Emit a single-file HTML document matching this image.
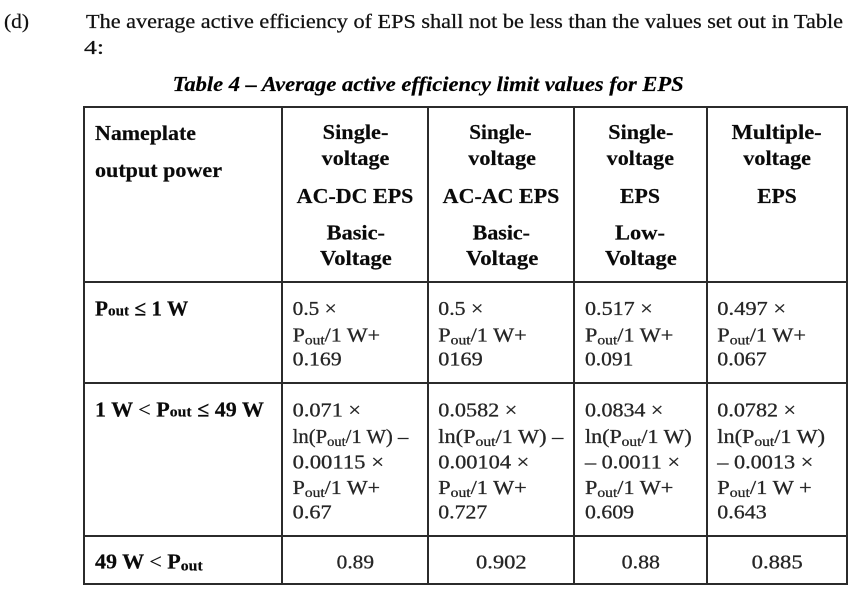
<!DOCTYPE html>
<html><head><meta charset="utf-8"><style>
html,body{margin:0;padding:0;background:#fff;}
svg{display:block;}
text{font-family:"Liberation Serif","Times New Roman",Times,"Tinos","Nimbus Roman","FreeSerif",serif;}
.m{font-size:20px;fill:#111;stroke:#111;stroke-width:0.25;}
.cap{font-size:21px;font-weight:bold;font-style:italic;fill:#000;stroke:#000;stroke-width:0.2;}
.h{font-size:21px;font-weight:bold;fill:#0a0a0a;stroke:#0a0a0a;stroke-width:0.2;}
.b{font-size:20px;fill:#262626;stroke:#262626;stroke-width:0.3;}
</style></head><body>
<svg width="865" height="593" viewBox="0 0 865 593" xmlns="http://www.w3.org/2000/svg" font-family="Liberation Serif, Times New Roman, serif">
<rect x="0" y="0" width="865" height="593" fill="#fff"/>

<!-- paragraph -->
<text class="m" x="4" y="28" textLength="25" lengthAdjust="spacingAndGlyphs">(d)</text>
<text class="m" x="86" y="28" textLength="757" lengthAdjust="spacingAndGlyphs">The average active efficiency of EPS shall not be less than the values set out in Table</text>
<text class="m" x="84" y="54" textLength="20" lengthAdjust="spacingAndGlyphs">4:</text>
<text class="cap" x="172.7" y="91" textLength="511" lengthAdjust="spacingAndGlyphs">Table 4 – Average active efficiency limit values for EPS</text>

<!-- table lines -->
<g fill="#2b2b2b">
<rect x="83" y="106" width="765" height="2"/>
<rect x="83" y="281" width="765" height="2"/>
<rect x="83" y="382" width="765" height="2"/>
<rect x="83" y="535" width="765" height="2"/>
<rect x="83" y="583" width="765" height="2"/>
<rect x="83" y="106" width="2" height="479"/>
<rect x="281" y="106" width="2" height="479"/>
<rect x="427" y="106" width="2" height="479"/>
<rect x="573" y="106" width="2" height="479"/>
<rect x="706" y="106" width="2" height="479"/>
<rect x="846" y="106" width="2" height="479"/>
</g>

<!-- header -->
<text class="h" x="95" y="140" textLength="101" lengthAdjust="spacingAndGlyphs">Nameplate</text>
<text class="h" x="95" y="177" textLength="127" lengthAdjust="spacingAndGlyphs">output power</text>

<text class="h" x="322.7" y="139" textLength="65.7" lengthAdjust="spacingAndGlyphs">Single-</text>
<text class="h" x="321.7" y="165" textLength="67.7" lengthAdjust="spacingAndGlyphs">voltage</text>
<text class="h" x="296.7" y="203" textLength="116.7" lengthAdjust="spacingAndGlyphs">AC-DC EPS</text>
<text class="h" x="326.7" y="239.5" textLength="58.3" lengthAdjust="spacingAndGlyphs">Basic-</text>
<text class="h" x="320" y="265" textLength="71.7" lengthAdjust="spacingAndGlyphs">Voltage</text>

<text class="h" x="469.3" y="139" textLength="62.3" lengthAdjust="spacingAndGlyphs">Single-</text>
<text class="h" x="468.3" y="165" textLength="67.7" lengthAdjust="spacingAndGlyphs">voltage</text>
<text class="h" x="442.7" y="203" textLength="116.7" lengthAdjust="spacingAndGlyphs">AC-AC EPS</text>
<text class="h" x="472.7" y="239.5" textLength="57.3" lengthAdjust="spacingAndGlyphs">Basic-</text>
<text class="h" x="466" y="265" textLength="72.3" lengthAdjust="spacingAndGlyphs">Voltage</text>

<text class="h" x="608.3" y="139" textLength="65" lengthAdjust="spacingAndGlyphs">Single-</text>
<text class="h" x="606.7" y="165" textLength="67.3" lengthAdjust="spacingAndGlyphs">voltage</text>
<text class="h" x="620" y="203" textLength="40" lengthAdjust="spacingAndGlyphs">EPS</text>
<text class="h" x="615" y="239.5" textLength="50" lengthAdjust="spacingAndGlyphs">Low-</text>
<text class="h" x="605" y="265" textLength="71.7" lengthAdjust="spacingAndGlyphs">Voltage</text>

<text class="h" x="731.7" y="139" textLength="90" lengthAdjust="spacingAndGlyphs">Multiple-</text>
<text class="h" x="743.3" y="165" textLength="67.7" lengthAdjust="spacingAndGlyphs">voltage</text>
<text class="h" x="757.3" y="203" textLength="39.4" lengthAdjust="spacingAndGlyphs">EPS</text>

<!-- row 1 -->
<text class="h" x="95" y="315.7" textLength="93.3" lengthAdjust="spacingAndGlyphs">P<tspan font-size="15">out</tspan> ≤ 1 W</text>

<text class="b" x="292.7" y="315" textLength="44" lengthAdjust="spacingAndGlyphs">0.5 ×</text>
<text class="b" x="292.7" y="341.5" textLength="87.3" lengthAdjust="spacingAndGlyphs">P<tspan font-size="14" dy="3">out</tspan><tspan dy="-3">/1 W+</tspan></text>
<text class="b" x="292.7" y="365.7" textLength="49" lengthAdjust="spacingAndGlyphs">0.169</text>

<text class="b" x="438.3" y="315" textLength="45" lengthAdjust="spacingAndGlyphs">0.5 ×</text>
<text class="b" x="438.3" y="341.5" textLength="88.4" lengthAdjust="spacingAndGlyphs">P<tspan font-size="14" dy="3">out</tspan><tspan dy="-3">/1 W+</tspan></text>
<text class="b" x="438.3" y="365.7" textLength="44.4" lengthAdjust="spacingAndGlyphs">0169</text>

<text class="b" x="585" y="315" textLength="67.7" lengthAdjust="spacingAndGlyphs">0.517 ×</text>
<text class="b" x="585" y="341.5" textLength="88.3" lengthAdjust="spacingAndGlyphs">P<tspan font-size="14" dy="3">out</tspan><tspan dy="-3">/1 W+</tspan></text>
<text class="b" x="585" y="365.7" textLength="48.3" lengthAdjust="spacingAndGlyphs">0.091</text>

<text class="b" x="717.3" y="315" textLength="68.7" lengthAdjust="spacingAndGlyphs">0.497 ×</text>
<text class="b" x="717.3" y="341.5" textLength="88.7" lengthAdjust="spacingAndGlyphs">P<tspan font-size="14" dy="3">out</tspan><tspan dy="-3">/1 W+</tspan></text>
<text class="b" x="717.3" y="365.7" textLength="49.4" lengthAdjust="spacingAndGlyphs">0.067</text>

<!-- row 2 -->
<text class="h" x="95" y="416.7" textLength="169" lengthAdjust="spacingAndGlyphs">1 W <tspan font-weight="normal">&lt;</tspan> P<tspan font-size="15">out</tspan> ≤ 49 W</text>

<text class="b" x="292.7" y="416.7" textLength="68.3" lengthAdjust="spacingAndGlyphs">0.071 ×</text>
<text class="b" x="292.7" y="443" textLength="115.6" lengthAdjust="spacingAndGlyphs">ln(P<tspan font-size="14" dy="3">out</tspan><tspan dy="-3">/1 W) –</tspan></text>
<text class="b" x="292.7" y="468.3" textLength="91.3" lengthAdjust="spacingAndGlyphs">0.00115 ×</text>
<text class="b" x="292.7" y="494" textLength="87.3" lengthAdjust="spacingAndGlyphs">P<tspan font-size="14" dy="3">out</tspan><tspan dy="-3">/1 W+</tspan></text>
<text class="b" x="292.7" y="518.3" textLength="39" lengthAdjust="spacingAndGlyphs">0.67</text>

<text class="b" x="438.3" y="416.7" textLength="79" lengthAdjust="spacingAndGlyphs">0.0582 ×</text>
<text class="b" x="438.3" y="443" textLength="125" lengthAdjust="spacingAndGlyphs">ln(P<tspan font-size="14" dy="3">out</tspan><tspan dy="-3">/1 W) –</tspan></text>
<text class="b" x="438.3" y="468.3" textLength="91" lengthAdjust="spacingAndGlyphs">0.00104 ×</text>
<text class="b" x="438.3" y="494" textLength="88.4" lengthAdjust="spacingAndGlyphs">P<tspan font-size="14" dy="3">out</tspan><tspan dy="-3">/1 W+</tspan></text>
<text class="b" x="438.3" y="518.3" textLength="49" lengthAdjust="spacingAndGlyphs">0.727</text>

<text class="b" x="585" y="416.7" textLength="78.3" lengthAdjust="spacingAndGlyphs">0.0834 ×</text>
<text class="b" x="585" y="443" textLength="106.7" lengthAdjust="spacingAndGlyphs">ln(P<tspan font-size="14" dy="3">out</tspan><tspan dy="-3">/1 W)</tspan></text>
<text class="b" x="585" y="468.3" textLength="95" lengthAdjust="spacingAndGlyphs">– 0.0011 ×</text>
<text class="b" x="585" y="494" textLength="88.3" lengthAdjust="spacingAndGlyphs">P<tspan font-size="14" dy="3">out</tspan><tspan dy="-3">/1 W+</tspan></text>
<text class="b" x="585" y="518.3" textLength="49" lengthAdjust="spacingAndGlyphs">0.609</text>

<text class="b" x="717.3" y="416.7" textLength="78.7" lengthAdjust="spacingAndGlyphs">0.0782 ×</text>
<text class="b" x="717.3" y="443" textLength="107.7" lengthAdjust="spacingAndGlyphs">ln(P<tspan font-size="14" dy="3">out</tspan><tspan dy="-3">/1 W)</tspan></text>
<text class="b" x="717.3" y="468.3" textLength="96" lengthAdjust="spacingAndGlyphs">– 0.0013 ×</text>
<text class="b" x="717.3" y="494" textLength="94.4" lengthAdjust="spacingAndGlyphs">P<tspan font-size="14" dy="3">out</tspan><tspan dy="-3">/1 W +</tspan></text>
<text class="b" x="717.3" y="518.3" textLength="49.4" lengthAdjust="spacingAndGlyphs">0.643</text>

<!-- row 3 -->
<text class="h" x="95" y="568.3" textLength="107.7" lengthAdjust="spacingAndGlyphs">49 W <tspan font-weight="normal">&lt;</tspan> P<tspan font-size="15" dy="2">out</tspan></text>
<text class="b" x="336.7" y="568.3" textLength="37.3" lengthAdjust="spacingAndGlyphs">0.89</text>
<text class="b" x="476" y="568.3" textLength="50.7" lengthAdjust="spacingAndGlyphs">0.902</text>
<text class="b" x="621.7" y="568.3" textLength="38.3" lengthAdjust="spacingAndGlyphs">0.88</text>
<text class="b" x="751.7" y="568.3" textLength="51" lengthAdjust="spacingAndGlyphs">0.885</text>
</svg>
</body></html>
